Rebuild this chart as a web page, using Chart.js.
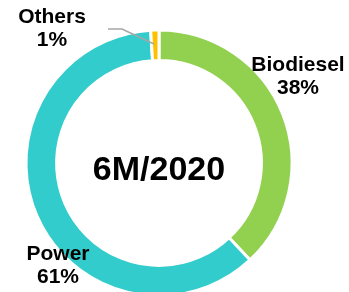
<!DOCTYPE html>
<html>
<head>
<meta charset="utf-8">
<script src="https://cdn.jsdelivr.net/npm/chart.js@4.4.0/dist/chart.umd.min.js"></script>
<style>
  html, body { margin: 0; padding: 0; background: #fff; overflow: hidden; }
  #wrap { width: 349px; height: 326px; position: relative; }
</style>
</head>
<body>
<div id="wrap"><canvas id="myChart"></canvas></div>
<script>
// data
const categories = ["Biodiesel", "Power", "Others"];
const shares = [38, 61, 1];
const sliceColors = ["#92D050", "#33CCCC", "#FFC000"];
const centerTitle = "6M/2020";

// where each label sits (text only)
const labelPos = [
  { x: 298, y: 65 },
  { x: 58, y: 254 },
  { x: 52, y: 17 },
];

const labelPlugin = {
  id: "labels",
  afterDraw(chart) {
    const ctx = chart.ctx;
    const arc = chart.getDatasetMeta(0).data[0];

    // center text
    ctx.save();
    ctx.fillStyle = "#000";
    ctx.font = "bold 34px 'Liberation Sans', Arial, sans-serif";
    ctx.textAlign = "center";
    ctx.textBaseline = "middle";
    ctx.fillText(centerTitle, arc.x, arc.y + 8);

    // leader line for Others
    ctx.strokeStyle = "#A6A6A6";
    ctx.lineWidth = 1.5;
    ctx.beginPath();
    ctx.moveTo(108, 29);
    ctx.lineTo(122, 29);
    ctx.lineTo(154, 44);
    ctx.stroke();

    ctx.font = "bold 21px 'Liberation Sans', Arial, sans-serif";
    categories.forEach((name, i) => {
      const p = labelPos[i];
      ctx.fillText(name, p.x, p.y);
      ctx.fillText(shares[i] + "%", p.x, p.y + 23);
    });
    ctx.restore();
  },
};

new Chart(document.getElementById("myChart"), {
  type: "doughnut",
  data: {
    labels: categories,
    datasets: [
      {
        data: shares,
        backgroundColor: sliceColors,
        borderColor: "#fff",
        borderWidth: 3,
      },
    ],
  },
  options: {
    responsive: true,
    maintainAspectRatio: false,
    animation: false,
    cutout: "77%",
    rotation: 0,
    layout: { padding: { left: 24.5, right: 55.5, top: 28.5, bottom: 28.5 } },
    plugins: {
      legend: { display: false },
      tooltip: { enabled: false },
    },
  },
  plugins: [labelPlugin],
});
</script>
</body>
</html>
